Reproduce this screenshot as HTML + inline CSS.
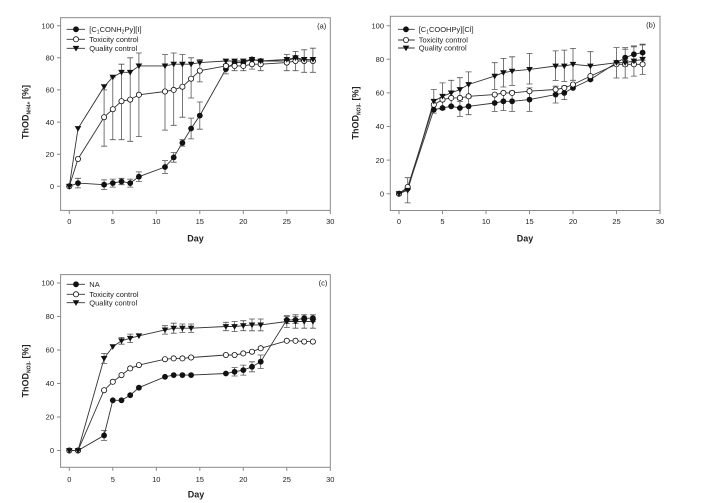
<!DOCTYPE html>
<html><head><meta charset="utf-8"><style>
html,body{margin:0;padding:0;background:#fff;}
svg{display:block;}
text{font-family:"Liberation Sans",Arial,sans-serif;fill:#222;}
</style></head><body>
<svg width="706" height="503" viewBox="0 0 706 503" xmlns="http://www.w3.org/2000/svg">
<defs>
<circle id="f" r="2.9" fill="#111"/>
<circle id="o" r="2.6" fill="#fff" stroke="#111" stroke-width="0.8"/>
<path id="t" d="M-3.3,-2.4H3.3L0,3.2Z" fill="#111"/>
</defs>
<rect width="706" height="503" fill="#fff"/>

<!-- ============ PANEL A ============ -->
<rect x="60.6" y="17.7" width="269.7" height="192.7" fill="none" stroke="#8a8a8a" stroke-width="1"/>
<path d="M57,25.7h3.6M57,57.8h3.6M57,89.9h3.6M57,122.1h3.6M57,154.2h3.6M57,186.3h3.6M69.3,210.4v3.6M112.8,210.4v3.6M156.3,210.4v3.6M199.8,210.4v3.6M243.3,210.4v3.6M286.8,210.4v3.6M330.3,210.4v3.6" stroke="#8a8a8a" stroke-width="1"/>
<g font-size="7.5" text-anchor="end">
<text x="54" y="28.4">100</text><text x="54" y="60.5">80</text><text x="54" y="92.6">60</text><text x="54" y="124.8">40</text><text x="54" y="156.9">20</text><text x="54" y="189">0</text>
</g>
<g font-size="7.5" text-anchor="middle">
<text x="69.3" y="224">0</text><text x="112.8" y="224">5</text><text x="156.3" y="224">10</text><text x="199.8" y="224">15</text><text x="243.3" y="224">20</text><text x="286.8" y="224">25</text><text x="330.3" y="224">30</text>
</g>
<text x="195.5" y="241.5" font-size="9" font-weight="bold" text-anchor="middle">Day</text>
<text transform="translate(28.5,112) rotate(-90)" font-size="9" font-weight="bold" text-anchor="middle">ThOD<tspan font-size="5" dy="2">NH4+</tspan><tspan dy="-2"> [%]</tspan></text>
<text x="321.7" y="28.3" font-size="7.5" text-anchor="middle">(a)</text>
<!-- legend a -->
<g stroke="#333" stroke-width="0.9"><path d="M66.7,29.3H85M66.7,39.3H85M66.7,48.3H85"/></g>
<use href="#f" x="76" y="29.3"/><use href="#o" x="76" y="39.3"/><use href="#t" x="76" y="48.3"/>
<g font-size="7.5">
<text x="89.3" y="32">[C<tspan font-size="5" dy="1.5">1</tspan><tspan dy="-1.5">CONH</tspan><tspan font-size="5" dy="1.5">2</tspan><tspan dy="-1.5">Py][I]</tspan></text>
<text x="89.3" y="42">Toxicity control</text>
<text x="89.3" y="51">Quality control</text>
</g>
<!-- lines a -->
<g fill="none" stroke="#333" stroke-width="0.9">
<polyline points="69.3,186.3 78,183.1 104.1,184.7 112.8,183.1 121.5,181.5 130.2,183.1 138.9,176.7 165,167 173.7,157.4 182.4,142.9 191.1,128.5 199.8,115.6 225.9,69.1 234.6,62.6 243.3,62.6 252,59.4 260.7,61 286.8,61 295.5,57.8 304.2,61 312.9,61"/>
<polyline points="69.3,186.3 78,159 104.1,117.2 112.8,109.2 121.5,101.2 130.2,99.6 138.9,94.8 165,91.5 173.7,89.9 182.4,86.7 191.1,78.7 199.8,70.7 225.9,65.9 234.6,65.9 243.3,65.9 252,64.2 260.7,64.2 286.8,62.6 295.5,61 304.2,61 312.9,61"/>
<polyline points="69.3,186.3 78,128.5 104.1,86.7 112.8,77.1 121.5,72.3 130.2,72.3 138.9,65.9 165,65.9 173.7,64.2 182.4,64.2 191.1,64.2 199.8,62.6 225.9,61 234.6,61 243.3,61 252,59.4 260.7,61 286.8,59.4 295.5,57.8 304.2,59.4 312.9,59.4"/>
</g>
<!-- error bars a -->
<path fill="none" stroke="#555" stroke-width="0.8" d="
M78,178.3V187.9M75,178.3h6M75,187.9h6
M104.1,179.9V189.5M101.1,179.9h6M101.1,189.5h6
M112.8,179.1V187.1M109.8,179.1h6M109.8,187.1h6
M121.5,178.3V184.7M118.5,178.3h6M118.5,184.7h6
M130.2,179.1V187.1M127.2,179.1h6M127.2,187.1h6
M138.9,171.9V181.5M135.9,171.9h6M135.9,181.5h6
M165,160.6V173.4M162,160.6h6M162,173.4h6
M173.7,152.6V162.2M170.7,152.6h6M170.7,162.2h6
M182.4,139.7V146.1M179.4,139.7h6M179.4,146.1h6
M191.1,118.1V138.9M188.1,118.1h6M188.1,138.9h6
M199.8,102V129.2M196.8,102h6M196.8,129.2h6
M225.9,64.3V73.9M222.9,64.3h6M222.9,73.9h6
M104.1,89.9V146.2M101.1,89.9h6M101.1,146.2h6
M112.8,77.1V139.7M109.8,77.1h6M109.8,139.7h6
M121.5,64.2V139.7M118.5,64.2h6M118.5,139.7h6
M130.2,57.8V141.3M127.2,57.8h6M127.2,141.3h6
M138.9,53V136.5M135.9,53h6M135.9,136.5h6
M165,54.6V130.1M162,54.6h6M162,130.1h6
M173.7,53V125.3M170.7,53h6M170.7,125.3h6
M182.4,54.6V117.2M179.4,54.6h6M179.4,117.2h6
M191.1,57.8V98M188.1,57.8h6M188.1,98h6
M199.8,59.4V81.9M196.8,59.4h6M196.8,81.9h6
M234.6,61V70.7M231.6,61h6M231.6,70.7h6
M243.3,61V70.7M240.3,61h6M240.3,70.7h6
M252,59.4V69.1M249,59.4h6M249,69.1h6
M260.7,59.4V70.7M257.7,59.4h6M257.7,70.7h6
M286.8,54.6V70.7M283.8,54.6h6M283.8,70.7h6
M295.5,51.4V70.7M292.5,51.4h6M292.5,70.7h6
M304.2,49.8V72.3M301.2,49.8h6M301.2,72.3h6
M312.9,48.2V72.3M309.9,48.2h6M309.9,72.3h6"/>
<!-- markers a -->
<use href="#f" x="69.3" y="186.3"/><use href="#f" x="78" y="183.1"/><use href="#f" x="104.1" y="184.7"/><use href="#f" x="112.8" y="183.1"/><use href="#f" x="121.5" y="181.5"/><use href="#f" x="130.2" y="183.1"/><use href="#f" x="138.9" y="176.7"/><use href="#f" x="165" y="167"/><use href="#f" x="173.7" y="157.4"/><use href="#f" x="182.4" y="142.9"/><use href="#f" x="191.1" y="128.5"/><use href="#f" x="199.8" y="115.6"/><use href="#f" x="225.9" y="69.1"/><use href="#f" x="234.6" y="62.6"/><use href="#f" x="243.3" y="62.6"/><use href="#f" x="252" y="59.4"/><use href="#f" x="260.7" y="61"/><use href="#f" x="286.8" y="61"/><use href="#f" x="295.5" y="57.8"/><use href="#f" x="304.2" y="61"/><use href="#f" x="312.9" y="61"/>
<use href="#o" x="69.3" y="186.3"/><use href="#o" x="78" y="159"/><use href="#o" x="104.1" y="117.2"/><use href="#o" x="112.8" y="109.2"/><use href="#o" x="121.5" y="101.2"/><use href="#o" x="130.2" y="99.6"/><use href="#o" x="138.9" y="94.8"/><use href="#o" x="165" y="91.5"/><use href="#o" x="173.7" y="89.9"/><use href="#o" x="182.4" y="86.7"/><use href="#o" x="191.1" y="78.7"/><use href="#o" x="199.8" y="70.7"/><use href="#o" x="225.9" y="65.9"/><use href="#o" x="234.6" y="65.9"/><use href="#o" x="243.3" y="65.9"/><use href="#o" x="252" y="64.2"/><use href="#o" x="260.7" y="64.2"/><use href="#o" x="286.8" y="62.6"/><use href="#o" x="295.5" y="61"/><use href="#o" x="304.2" y="61"/><use href="#o" x="312.9" y="61"/>
<use href="#t" x="69.3" y="186.3"/><use href="#t" x="78" y="128.5"/><use href="#t" x="104.1" y="86.7"/><use href="#t" x="112.8" y="77.1"/><use href="#t" x="121.5" y="72.3"/><use href="#t" x="130.2" y="72.3"/><use href="#t" x="138.9" y="65.9"/><use href="#t" x="165" y="65.9"/><use href="#t" x="173.7" y="64.2"/><use href="#t" x="182.4" y="64.2"/><use href="#t" x="191.1" y="64.2"/><use href="#t" x="199.8" y="62.6"/><use href="#t" x="225.9" y="61"/><use href="#t" x="234.6" y="61"/><use href="#t" x="243.3" y="61"/><use href="#t" x="252" y="59.4"/><use href="#t" x="260.7" y="61"/><use href="#t" x="286.8" y="59.4"/><use href="#t" x="295.5" y="57.8"/><use href="#t" x="304.2" y="59.4"/><use href="#t" x="312.9" y="59.4"/>

<!-- ============ PANEL B ============ -->
<rect x="390.3" y="16.3" width="269.7" height="194.2" fill="none" stroke="#8a8a8a" stroke-width="1"/>
<path d="M386.7,25.7h3.6M386.7,59.3h3.6M386.7,92.9h3.6M386.7,126.5h3.6M386.7,160.1h3.6M386.7,193.7h3.6M399,210.5v3.6M442.5,210.5v3.6M486,210.5v3.6M529.5,210.5v3.6M573,210.5v3.6M616.5,210.5v3.6M660,210.5v3.6" stroke="#8a8a8a" stroke-width="1"/>
<g font-size="7.5" text-anchor="end">
<text x="384" y="28.4">100</text><text x="384" y="62">80</text><text x="384" y="95.6">60</text><text x="384" y="129.2">40</text><text x="384" y="162.8">20</text><text x="384" y="196.4">0</text>
</g>
<g font-size="7.5" text-anchor="middle">
<text x="399" y="224">0</text><text x="442.5" y="224">5</text><text x="486" y="224">10</text><text x="529.5" y="224">15</text><text x="573" y="224">20</text><text x="616.5" y="224">25</text><text x="660" y="224">30</text>
</g>
<text x="525" y="241.5" font-size="9" font-weight="bold" text-anchor="middle">Day</text>
<text transform="translate(358.5,113) rotate(-90)" font-size="9" font-weight="bold" text-anchor="middle">ThOD<tspan font-size="5" dy="2">NO3-</tspan><tspan dy="-2"> [%]</tspan></text>
<text x="650.7" y="27.7" font-size="7.5" text-anchor="middle">(b)</text>
<g stroke="#333" stroke-width="0.9"><path d="M398,29.3H414.7M398,40H414.7M398,48H414.7"/></g>
<use href="#f" x="406" y="29.3"/><use href="#o" x="406" y="40"/><use href="#t" x="406" y="48"/>
<g font-size="7.5">
<text x="418.7" y="32">[C<tspan font-size="5" dy="1.5">1</tspan><tspan dy="-1.5">COOHPy][Cl]</tspan></text>
<text x="418.7" y="42.7">Toxicity control</text>
<text x="418.7" y="50.7">Quality control</text>
</g>
<g fill="none" stroke="#333" stroke-width="0.9">
<polyline points="399,193.7 407.7,188.7 433.8,109.7 442.5,108 451.2,106.3 459.9,108 468.6,106.3 494.7,103 503.4,101.3 512.1,101.3 529.5,99.6 555.6,94.6 564.3,92.9 573,87.9 590.4,79.5 616.5,62.7 625.2,57.6 633.9,54.3 642.6,52.6"/>
<polyline points="399,193.7 407.7,187 433.8,104.7 442.5,99.6 451.2,97.9 459.9,97.9 468.6,96.3 494.7,94.6 503.4,92.9 512.1,92.9 529.5,91.2 555.6,89.5 564.3,87.9 573,84.5 590.4,76.1 616.5,64.3 625.2,64.3 633.9,64.3 642.6,64.3"/>
<polyline points="399,193.7 407.7,190.3 433.8,101.3 442.5,96.3 451.2,92.9 459.9,89.5 468.6,84.5 494.7,76.1 503.4,72.7 512.1,71.1 529.5,69.4 555.6,66 564.3,66 573,64.3 590.4,66 616.5,62.7 625.2,62.7 633.9,61 642.6,59.3"/>
</g>
<path fill="none" stroke="#555" stroke-width="0.8" d="
M459.9,99.6V116.4M456.9,99.6h6M456.9,116.4h6
M468.6,97.9V114.7M465.6,97.9h6M465.6,114.7h6
M494.7,94.6V111.4M491.7,94.6h6M491.7,111.4h6
M503.4,92.1V110.5M500.4,92.1h6M500.4,110.5h6
M512.1,91.2V111.4M509.1,91.2h6M509.1,111.4h6
M529.5,87.9V111.4M526.5,87.9h6M526.5,111.4h6
M555.6,86.2V103M552.6,86.2h6M552.6,103h6
M564.3,86.2V99.6M561.3,86.2h6M561.3,99.6h6
M625.2,49.2V66M622.2,49.2h6M622.2,66h6
M633.9,46.8V61.9M630.9,46.8h6M630.9,61.9h6
M642.6,45V60.2M639.6,45h6M639.6,60.2h6
M407.7,177.7V202.9M404.7,177.7h6M404.7,202.9h6
M433.8,89.5V113.1M430.8,89.5h6M430.8,113.1h6
M442.5,82.9V109.7M439.5,82.9h6M439.5,109.7h6
M451.2,80.3V105.5M448.2,80.3h6M448.2,105.5h6
M459.9,77.7V101.3M456.9,77.7h6M456.9,101.3h6
M468.6,71.9V97.1M465.6,71.9h6M465.6,97.1h6
M494.7,62.7V89.5M491.7,62.7h6M491.7,89.5h6
M503.4,58.4V87M500.4,58.4h6M500.4,87h6
M512.1,56.8V85.4M509.1,56.8h6M509.1,85.4h6
M529.5,53.4V84M526.5,53.4h6M526.5,84h6
M555.6,50.9V80.5M552.6,50.9h6M552.6,80.5h6
M564.3,50.1V81.5M561.3,50.1h6M561.3,81.5h6
M573,48.4V80.3M570,48.4h6M570,80.3h6
M590.4,51.7V80.3M587.4,51.7h6M587.4,80.3h6
M616.5,47.6V78M613.5,47.6h6M613.5,78h6
M625.2,47.6V78M622.2,47.6h6M622.2,78h6
M633.9,45.9V76.1M630.9,45.9h6M630.9,76.1h6
M642.6,44.2V74.4M639.6,44.2h6M639.6,74.4h6"/>
<use href="#f" x="399" y="193.7"/><use href="#f" x="407.7" y="188.7"/><use href="#f" x="433.8" y="109.7"/><use href="#f" x="442.5" y="108"/><use href="#f" x="451.2" y="106.3"/><use href="#f" x="459.9" y="108"/><use href="#f" x="468.6" y="106.3"/><use href="#f" x="494.7" y="103"/><use href="#f" x="503.4" y="101.3"/><use href="#f" x="512.1" y="101.3"/><use href="#f" x="529.5" y="99.6"/><use href="#f" x="555.6" y="94.6"/><use href="#f" x="564.3" y="92.9"/><use href="#f" x="573" y="87.9"/><use href="#f" x="590.4" y="79.5"/><use href="#f" x="616.5" y="62.7"/><use href="#f" x="625.2" y="57.6"/><use href="#f" x="633.9" y="54.3"/><use href="#f" x="642.6" y="52.6"/>
<use href="#o" x="399" y="193.7"/><use href="#o" x="407.7" y="187"/><use href="#o" x="433.8" y="104.7"/><use href="#o" x="442.5" y="99.6"/><use href="#o" x="451.2" y="97.9"/><use href="#o" x="459.9" y="97.9"/><use href="#o" x="468.6" y="96.3"/><use href="#o" x="494.7" y="94.6"/><use href="#o" x="503.4" y="92.9"/><use href="#o" x="512.1" y="92.9"/><use href="#o" x="529.5" y="91.2"/><use href="#o" x="555.6" y="89.5"/><use href="#o" x="564.3" y="87.9"/><use href="#o" x="573" y="84.5"/><use href="#o" x="590.4" y="76.1"/><use href="#o" x="616.5" y="64.3"/><use href="#o" x="625.2" y="64.3"/><use href="#o" x="633.9" y="64.3"/><use href="#o" x="642.6" y="64.3"/>
<use href="#t" x="399" y="193.7"/><use href="#t" x="407.7" y="190.3"/><use href="#t" x="433.8" y="101.3"/><use href="#t" x="442.5" y="96.3"/><use href="#t" x="451.2" y="92.9"/><use href="#t" x="459.9" y="89.5"/><use href="#t" x="468.6" y="84.5"/><use href="#t" x="494.7" y="76.1"/><use href="#t" x="503.4" y="72.7"/><use href="#t" x="512.1" y="71.1"/><use href="#t" x="529.5" y="69.4"/><use href="#t" x="555.6" y="66"/><use href="#t" x="564.3" y="66"/><use href="#t" x="573" y="64.3"/><use href="#t" x="590.4" y="66"/><use href="#t" x="616.5" y="62.7"/><use href="#t" x="625.2" y="62.7"/><use href="#t" x="633.9" y="61"/><use href="#t" x="642.6" y="59.3"/>

<!-- ============ PANEL C ============ -->
<rect x="60.6" y="274.6" width="269.7" height="192.7" fill="none" stroke="#8a8a8a" stroke-width="1"/>
<path d="M57,283h3.6M57,316.5h3.6M57,350h3.6M57,383.5h3.6M57,417h3.6M57,450.5h3.6M69.3,467.3v3.6M112.8,467.3v3.6M156.3,467.3v3.6M199.8,467.3v3.6M243.3,467.3v3.6M286.8,467.3v3.6M330.3,467.3v3.6" stroke="#8a8a8a" stroke-width="1"/>
<g font-size="7.5" text-anchor="end">
<text x="54" y="285.7">100</text><text x="54" y="319.2">80</text><text x="54" y="352.7">60</text><text x="54" y="386.2">40</text><text x="54" y="419.7">20</text><text x="54" y="453.2">0</text>
</g>
<g font-size="7.5" text-anchor="middle">
<text x="69.3" y="482">0</text><text x="112.8" y="482">5</text><text x="156.3" y="482">10</text><text x="199.8" y="482">15</text><text x="243.3" y="482">20</text><text x="286.8" y="482">25</text><text x="330.3" y="482">30</text>
</g>
<text x="196" y="497.5" font-size="9" font-weight="bold" text-anchor="middle">Day</text>
<text transform="translate(28.5,371) rotate(-90)" font-size="9" font-weight="bold" text-anchor="middle">ThOD<tspan font-size="5" dy="2">NO3-</tspan><tspan dy="-2"> [%]</tspan></text>
<text x="323" y="285.7" font-size="7.5" text-anchor="middle">(c)</text>
<g stroke="#333" stroke-width="0.9"><path d="M66.7,284.3H85M66.7,294.3H85M66.7,302.7H85"/></g>
<use href="#f" x="76" y="284.3"/><use href="#o" x="76" y="294.3"/><use href="#t" x="76" y="302.7"/>
<g font-size="7.5">
<text x="89.3" y="287">NA</text>
<text x="89.3" y="297">Toxicity control</text>
<text x="89.3" y="305.4">Quality control</text>
</g>
<g fill="none" stroke="#333" stroke-width="0.9">
<polyline points="69.3,450.5 78,450.5 104.1,435.4 112.8,400.3 121.5,400.3 130.2,395.2 138.9,387.7 165,376.8 173.7,375.1 182.4,375.1 191.1,375.1 225.9,373.5 234.6,371.8 243.3,370.1 252,366.8 260.7,361.7 286.8,319.9 295.5,319.9 304.2,318.2 312.9,318.2"/>
<polyline points="69.3,450.5 78,450.5 104.1,390.2 112.8,381.8 121.5,375.1 130.2,368.4 138.9,365.1 165,359.2 173.7,358.4 182.4,358.4 191.1,357.5 225.9,355 234.6,355 243.3,353.4 252,351.7 260.7,348.3 286.8,340.8 295.5,340.8 304.2,341.6 312.9,341.6"/>
<polyline points="69.3,450.5 78,450.5 104.1,358.4 112.8,346.7 121.5,340.8 130.2,338.3 138.9,335.8 165,329.9 173.7,328.2 182.4,328.2 191.1,328.2 225.9,326.5 234.6,326.5 243.3,325.7 252,324.9 260.7,324.9 286.8,321.5 295.5,321.5 304.2,321.5 312.9,321.5"/>
</g>
<path fill="none" stroke="#555" stroke-width="0.8" d="
M104.1,430.4V440.4M101.1,430.4h6M101.1,440.4h6
M234.6,367.6V376M231.6,367.6h6M231.6,376h6
M243.3,365.1V375.1M240.3,365.1h6M240.3,375.1h6
M252,361.8V371.8M249,361.8h6M249,371.8h6
M260.7,355V368.4M257.7,355h6M257.7,368.4h6
M286.8,316.5V323.3M283.8,316.5h6M283.8,323.3h6
M295.5,316.5V323.3M292.5,316.5h6M292.5,323.3h6
M304.2,314.8V321.6M301.2,314.8h6M301.2,321.6h6
M312.9,314.8V321.6M309.9,314.8h6M309.9,321.6h6
M104.1,353.4V363.4M101.1,353.4h6M101.1,363.4h6
M121.5,337.4V344.2M118.5,337.4h6M118.5,344.2h6
M130.2,334.1V342.5M127.2,334.1h6M127.2,342.5h6
M165,325.7V334.1M162,325.7h6M162,334.1h6
M173.7,323.2V333.2M170.7,323.2h6M170.7,333.2h6
M182.4,324V332.4M179.4,324h6M179.4,332.4h6
M191.1,324V332.4M188.1,324h6M188.1,332.4h6
M225.9,322.3V330.7M222.9,322.3h6M222.9,330.7h6
M234.6,321.5V331.5M231.6,321.5h6M231.6,331.5h6
M243.3,320.7V330.7M240.3,320.7h6M240.3,330.7h6
M252,319V330.8M249,319h6M249,330.8h6
M260.7,319V330.8M257.7,319h6M257.7,330.8h6
M286.8,315.6V327.4M283.8,315.6h6M283.8,327.4h6
M295.5,314.8V328.2M292.5,314.8h6M292.5,328.2h6
M304.2,314.8V328.2M301.2,314.8h6M301.2,328.2h6
M312.9,314.8V328.2M309.9,314.8h6M309.9,328.2h6"/>
<use href="#f" x="69.3" y="450.5"/><use href="#f" x="78" y="450.5"/><use href="#f" x="104.1" y="435.4"/><use href="#f" x="112.8" y="400.3"/><use href="#f" x="121.5" y="400.3"/><use href="#f" x="130.2" y="395.2"/><use href="#f" x="138.9" y="387.7"/><use href="#f" x="165" y="376.8"/><use href="#f" x="173.7" y="375.1"/><use href="#f" x="182.4" y="375.1"/><use href="#f" x="191.1" y="375.1"/><use href="#f" x="225.9" y="373.5"/><use href="#f" x="234.6" y="371.8"/><use href="#f" x="243.3" y="370.1"/><use href="#f" x="252" y="366.8"/><use href="#f" x="260.7" y="361.7"/><use href="#f" x="286.8" y="319.9"/><use href="#f" x="295.5" y="319.9"/><use href="#f" x="304.2" y="318.2"/><use href="#f" x="312.9" y="318.2"/>
<use href="#o" x="69.3" y="450.5"/><use href="#o" x="78" y="450.5"/><use href="#o" x="104.1" y="390.2"/><use href="#o" x="112.8" y="381.8"/><use href="#o" x="121.5" y="375.1"/><use href="#o" x="130.2" y="368.4"/><use href="#o" x="138.9" y="365.1"/><use href="#o" x="165" y="359.2"/><use href="#o" x="173.7" y="358.4"/><use href="#o" x="182.4" y="358.4"/><use href="#o" x="191.1" y="357.5"/><use href="#o" x="225.9" y="355"/><use href="#o" x="234.6" y="355"/><use href="#o" x="243.3" y="353.4"/><use href="#o" x="252" y="351.7"/><use href="#o" x="260.7" y="348.3"/><use href="#o" x="286.8" y="340.8"/><use href="#o" x="295.5" y="340.8"/><use href="#o" x="304.2" y="341.6"/><use href="#o" x="312.9" y="341.6"/>
<use href="#t" x="69.3" y="450.5"/><use href="#t" x="78" y="450.5"/><use href="#t" x="104.1" y="358.4"/><use href="#t" x="112.8" y="346.7"/><use href="#t" x="121.5" y="340.8"/><use href="#t" x="130.2" y="338.3"/><use href="#t" x="138.9" y="335.8"/><use href="#t" x="165" y="329.9"/><use href="#t" x="173.7" y="328.2"/><use href="#t" x="182.4" y="328.2"/><use href="#t" x="191.1" y="328.2"/><use href="#t" x="225.9" y="326.5"/><use href="#t" x="234.6" y="326.5"/><use href="#t" x="243.3" y="325.7"/><use href="#t" x="252" y="324.9"/><use href="#t" x="260.7" y="324.9"/><use href="#t" x="286.8" y="321.5"/><use href="#t" x="295.5" y="321.5"/><use href="#t" x="304.2" y="321.5"/><use href="#t" x="312.9" y="321.5"/>
</svg>
</body></html>
